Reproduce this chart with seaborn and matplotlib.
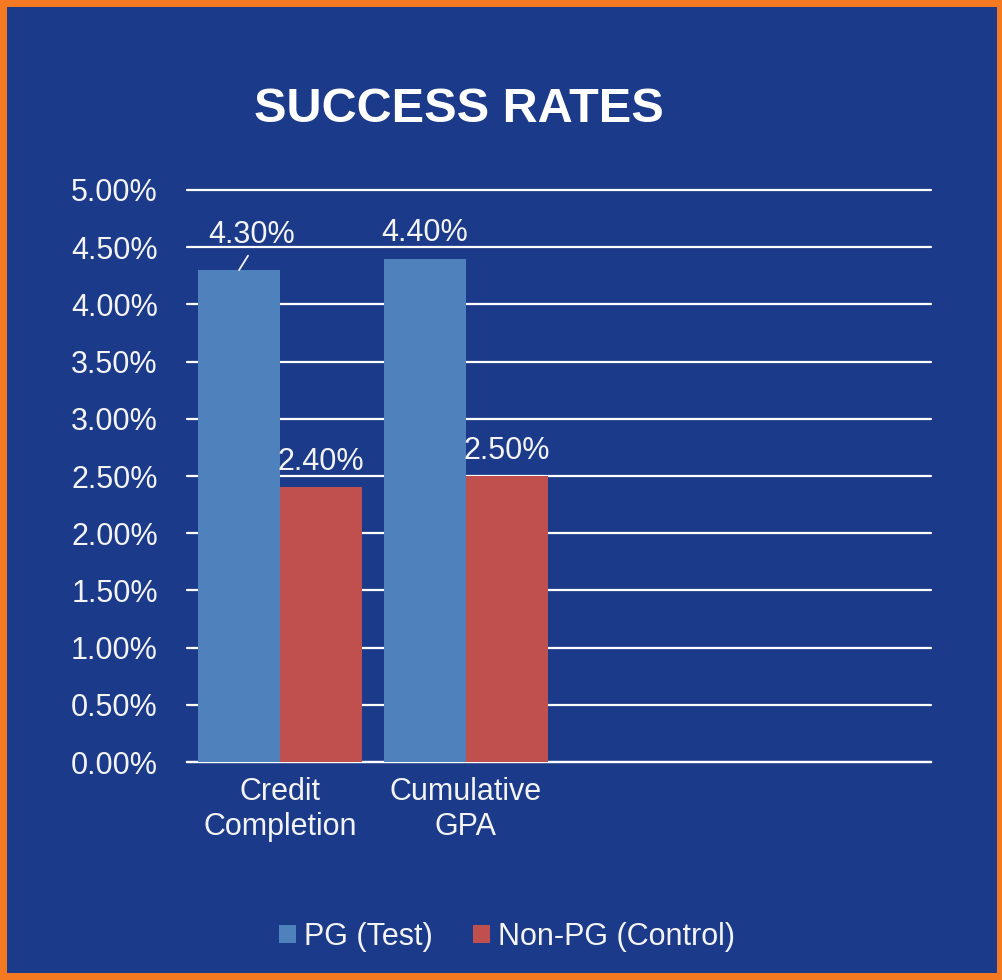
import matplotlib
matplotlib.use("Agg")
import matplotlib.pyplot as plt
from matplotlib.patches import Rectangle
from matplotlib.ticker import MultipleLocator, FuncFormatter
import seaborn as sns
import pandas as pd

# ---- data ----
categories = ["Credit\nCompletion", "Cumulative\nGPA"]
series_names = ["PG (Test)", "Non-PG (Control)"]
pg_values = [4.30, 4.40]
nonpg_values = [2.40, 2.50]
title = "SUCCESS RATES"

BG = "#1B3A8A"
ORANGE = "#F47920"
BLUE = "#4F81BD"
RED = "#C0504D"
TXT = "#F4F4F4"

df = pd.DataFrame({
    "category": categories * 2,
    "series": [series_names[0]] * len(categories) + [series_names[1]] * len(categories),
    "value": pg_values + nonpg_values,
})

sns.set_style("white")
plt.rcParams["font.family"] = ["Liberation Sans", "DejaVu Sans"]

fig = plt.figure(figsize=(10.02, 9.8), dpi=100)
fig.patch.set_facecolor(ORANGE)
fig.patches.append(Rectangle((7 / 1002, 7 / 980), (997 - 7) / 1002, (973 - 7) / 980,
                             transform=fig.transFigure, facecolor=BG, edgecolor="none", zorder=-10))

ax = fig.add_axes([187 / 1002, 1 - 762 / 980, (931 - 187) / 1002, (762 - 190) / 980])
ax.set_facecolor(BG)
ax.patch.set_alpha(0)
ax.set_zorder(1)

sns.barplot(data=df, x="category", y="value", hue="series", order=categories,
            hue_order=series_names, palette=[BLUE, RED], width=0.88,
            saturation=1, ax=ax, legend=True, zorder=3, linewidth=0, edgecolor="none")

ax.set_xlim(-0.5, 3.5)
ax.set_ylim(0, 5.0)
ax.yaxis.set_major_locator(MultipleLocator(0.5))
ax.yaxis.set_major_formatter(FuncFormatter(lambda v, p: f"{v:.2f}%"))
ax.set_axisbelow(True)
ax.grid(axis="y", color="white", linewidth=1.6)
ax.grid(axis="x", visible=False)
for gl in ax.get_ygridlines():
    gl.set_clip_on(False)
for s in ["left", "right", "top"]:
    ax.spines[s].set_visible(False)
ax.spines["bottom"].set_color("white")
ax.spines["bottom"].set_linewidth(1.6)
ax.set_xlabel("")
ax.set_ylabel("")
ax.tick_params(axis="y", length=0, pad=21, labelsize=22, labelcolor=TXT)
ax.tick_params(axis="x", length=0, pad=11, labelsize=22, labelcolor=TXT)

# data labels
for ci, container in enumerate(ax.containers):
    for bi, bar in enumerate(container):
        x = bar.get_x() + bar.get_width() / 2
        h = bar.get_height()
        if ci == 0 and bi == 0:
            ax.annotate(f"{h:.2f}%", xy=(x, h), xytext=(9, 19.5), textcoords="offset points",
                        ha="center", va="baseline", fontsize=22, color=TXT,
                        arrowprops=dict(arrowstyle="-", color=TXT, lw=1.3, relpos=(0.5, 0.0),
                                        shrinkA=2, shrinkB=0))
        else:
            ax.annotate(f"{h:.2f}%", xy=(x, h), xytext=(0, 12.5), textcoords="offset points",
                        ha="center", va="baseline", fontsize=22, color=TXT)

# legend
handles, labels = ax.get_legend_handles_labels()
ax.get_legend().remove()
for h in handles:
    h.set_edgecolor("none")
    h.set_linewidth(0)
leg = fig.legend(handles, labels, loc="center", bbox_to_anchor=(507 / 1002, 1 - 937 / 980),
                 bbox_transform=fig.transFigure, ncol=2, frameon=False, fontsize=22,
                 handlelength=0.55, handleheight=0.55, handletextpad=0.28, columnspacing=1.3,
                 labelcolor=TXT)

fig.text(459 / 1002, 1 - 110 / 980, title, ha="center", va="center", fontsize=35,
         fontweight="bold", color="white")

fig.savefig("out.png", dpi=100, facecolor=fig.get_facecolor())
